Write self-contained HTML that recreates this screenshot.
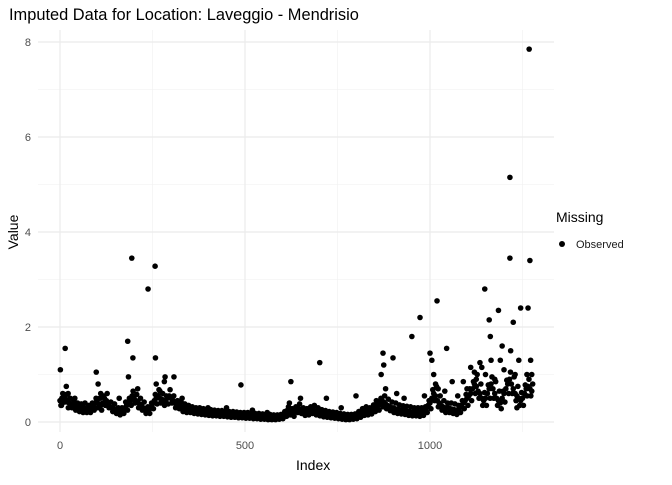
<!DOCTYPE html>
<html><head><meta charset="utf-8"><style>
body{margin:0;background:#fff;font-family:"Liberation Sans",sans-serif}
svg text{font-family:"Liberation Sans",sans-serif}
</style></head><body>
<svg id="c" width="672" height="480" xmlns="http://www.w3.org/2000/svg">
<rect width="672" height="480" fill="#fff"/>
<text x="9" y="20" font-size="16.4" fill="#000">Imputed Data for Location: Laveggio - Mendrisio</text>
<g id="grid"></g>
<g id="ticks"></g>
<g id="pts"></g>
<text x="296" y="470" font-size="14">Index</text>
<text transform="translate(18,232) rotate(-90)" text-anchor="middle" font-size="14">Value</text>
<g>
<text x="556" y="222" font-size="14">Missing</text>
<circle cx="562" cy="244" r="3" fill="#000"/>
<text x="576" y="248" font-size="11" fill="#1a1a1a">Observed</text>
</g>
</svg>
<script>
const xTicks=[0,500,1000];
const xMinor=[250,750,1250];
const yTicks=[0,2,4,6,8];
const yMinor=[1,3,5,7];
const baseStep=5;
const baseValues=[.45,.5,.55,.48,.42,.4,.38,.36,.34,.32,
.3,.3,.28,.3,.27,.25,.28,.3,.33,.4,
.45,.38,.35,.4,.5,.45,.38,.32,.3,.28,
.25,.22,.2,.2,.25,.3,.35,.4,.45,.55,
.5,.45,.42,.38,.35,.3,.25,.22,.25,.3,
.38,.45,.5,.55,.5,.48,.45,.42,.5,.55,
.5,.45,.4,.37,.35,.33,.3,.3,.28,.27,
.26,.25,.24,.24,.23,.22,.22,.21,.2,.2,
.2,.2,.19,.19,.18,.18,.18,.17,.17,.17,
.16,.16,.16,.15,.15,.15,.14,.14,.14,.14,
.14,.13,.13,.13,.12,.12,.12,.12,.11,.11,
.11,.1,.1,.1,.1,.09,.09,.09,.1,.1,
.12,.15,.2,.25,.22,.18,.2,.25,.3,.28,
.25,.22,.2,.2,.22,.25,.28,.25,.22,.2,
.2,.18,.17,.16,.15,.15,.14,.14,.13,.13,
.12,.12,.11,.11,.1,.1,.1,.1,.1,.1,
.12,.15,.18,.2,.22,.25,.22,.2,.25,.28,
.3,.32,.35,.4,.45,.42,.38,.35,.33,.3,
.3,.28,.27,.26,.25,.25,.24,.23,.22,.22,
.21,.2,.2,.2,.2,.2,.22,.25,.3,.35,
.4,.5,.6,.55,.45,.4,.35,.32,.3,.3,
.3,.28,.27,.26,.25,.25,.3,.35,.4,.45,
.5,.55,.6,.7,.8,.75,.65,.6,.5,.45,
.5,.6,.7,.8,.7,.6,.5,.45,.4,.5,
.6,.7,.8,.9,.8,.7,.6,.55,.5,.45,
.5,.6,.7,.75,.7,.65];
const spreadValues=[.35,.6,.42,.58,.3,.5,.3,.45,.25,.4,
.22,.38,.2,.4,.2,.35,.2,.4,.25,.5,
.3,.5,.25,.55,.35,.6,.3,.42,.22,.38,
.18,.3,.15,.3,.18,.42,.25,.5,.35,.65,
.4,.58,.3,.5,.25,.42,.18,.32,.18,.4,
.28,.58,.38,.68,.4,.6,.35,.55,.38,.68,
.4,.55,.3,.45,.28,.42,.22,.38,.2,.35,
.2,.32,.18,.3,.17,.3,.16,.28,.15,.27,
.14,.26,.13,.25,.13,.24,.12,.24,.12,.23,
.11,.22,.1,.22,.1,.21,.09,.2,.09,.2,
.08,.2,.08,.19,.07,.18,.07,.18,.06,.17,
.06,.16,.05,.16,.05,.15,.05,.15,.06,.16,
.07,.22,.12,.32,.15,.28,.12,.32,.2,.38,
.18,.3,.14,.28,.15,.32,.18,.35,.15,.3,
.13,.26,.11,.24,.1,.22,.09,.21,.08,.2,
.07,.18,.06,.17,.05,.16,.05,.16,.06,.17,
.07,.22,.1,.28,.14,.32,.15,.3,.17,.36,
.22,.42,.25,.5,.32,.55,.28,.48,.24,.42,
.2,.4,.18,.36,.17,.34,.16,.33,.14,.32,
.13,.3,.13,.3,.12,.3,.14,.32,.2,.45,
.28,.68,.45,.75,.32,.55,.25,.45,.2,.4,
.2,.4,.18,.38,.16,.35,.2,.45,.28,.58,
.35,.7,.45,.85,.6,1.0,.5,.8,.35,.62,
.35,.78,.5,.95,.5,.85,.35,.65,.28,.65,
.42,.88,.6,1.05,.6,.95,.45,.75,.35,.62,
.35,.78,.55,.9,.55,.8];
const extraIdx=[1,4,14,17,22,40,98,103,110,125,160,183,185,194,197,210,238,257,258,260,270,282,284,308,330,400,450,489,520,560,620,624,640,650,702,720,760,800,855,868,873,875,880,900,910,930,951,973,985,1000,1005,1010,1015,1019,1022,1040,1045,1060,1075,1090,1100,1110,1120,1125,1135,1140,1148,1150,1160,1163,1165,1175,1185,1190,1195,1200,1216,1216,1218,1225,1230,1235,1240,1245,1262,1268,1270,1272,1275,1265];
const extraVal=[1.1,.35,1.55,.75,.6,.5,1.05,.8,.6,.45,.5,1.7,.95,3.45,1.35,.7,2.8,3.28,1.35,.8,.65,.85,.95,.95,.5,.3,.3,.78,.25,.2,.4,.85,.3,.5,1.25,.5,.3,.55,.45,1.0,1.45,1.2,.7,1.35,.6,.5,1.8,2.2,.55,1.45,1.3,1.0,.8,2.55,.7,.65,1.55,.85,.55,.85,.7,1.15,1.05,.9,1.25,1.15,2.8,1.0,2.15,1.8,1.3,.9,2.35,1.3,1.6,1.1,5.15,3.45,1.5,2.1,1.0,.3,1.3,2.4,1.0,7.85,3.4,1.3,1.0,2.4];
const NS='http://www.w3.org/2000/svg';
const L=38,R=554,T=30,B=432;
const xs=v=>60+v*0.37;
const ys=v=>422-v*47.5;
function mk(tag,attrs,parent){const e=document.createElementNS(NS,tag);for(const k in attrs)e.setAttribute(k,attrs[k]);parent.appendChild(e);return e;}
const grid=document.getElementById('grid'),ticks=document.getElementById('ticks'),pts=document.getElementById('pts');
yMinor.forEach(v=>{const l=mk('line',{x1:L,x2:R,y1:ys(v),y2:ys(v),stroke:'#f0f0f0','stroke-width':0.6},grid);

});
xMinor.forEach(v=>{const l=mk('line',{x1:xs(v),x2:xs(v),y1:T,y2:B,stroke:'#f0f0f0','stroke-width':0.6},grid);

});
yTicks.forEach(v=>{const l=mk('line',{x1:L,x2:R,y1:ys(v),y2:ys(v),stroke:'#ebebeb','stroke-width':1.2},grid);


const t=mk('text',{x:31,y:ys(v)+4,'text-anchor':'end','font-size':11,fill:'#4d4d4d'},ticks);t.textContent=v;

});
xTicks.forEach(v=>{const l=mk('line',{x1:xs(v),x2:xs(v),y1:T,y2:B,stroke:'#ebebeb','stroke-width':1.2},grid);


const t=mk('text',{x:xs(v),y:449,'text-anchor':'middle','font-size':11,fill:'#4d4d4d'},ticks);t.textContent=v;

});
baseValues.forEach((v,i)=>{const c=mk('circle',{cx:xs(i*baseStep),cy:ys(v),r:2.8,fill:'#000'},pts);

});
spreadValues.forEach((v,i)=>{const c=mk('circle',{cx:xs(i*baseStep+2.5),cy:ys(v),r:2.8,fill:'#000'},pts);

});
extraIdx.forEach((x,i)=>{const c=mk('circle',{cx:xs(x),cy:ys(extraVal[i]),r:2.8,fill:'#000'},pts);

});
</script>
</body></html>
